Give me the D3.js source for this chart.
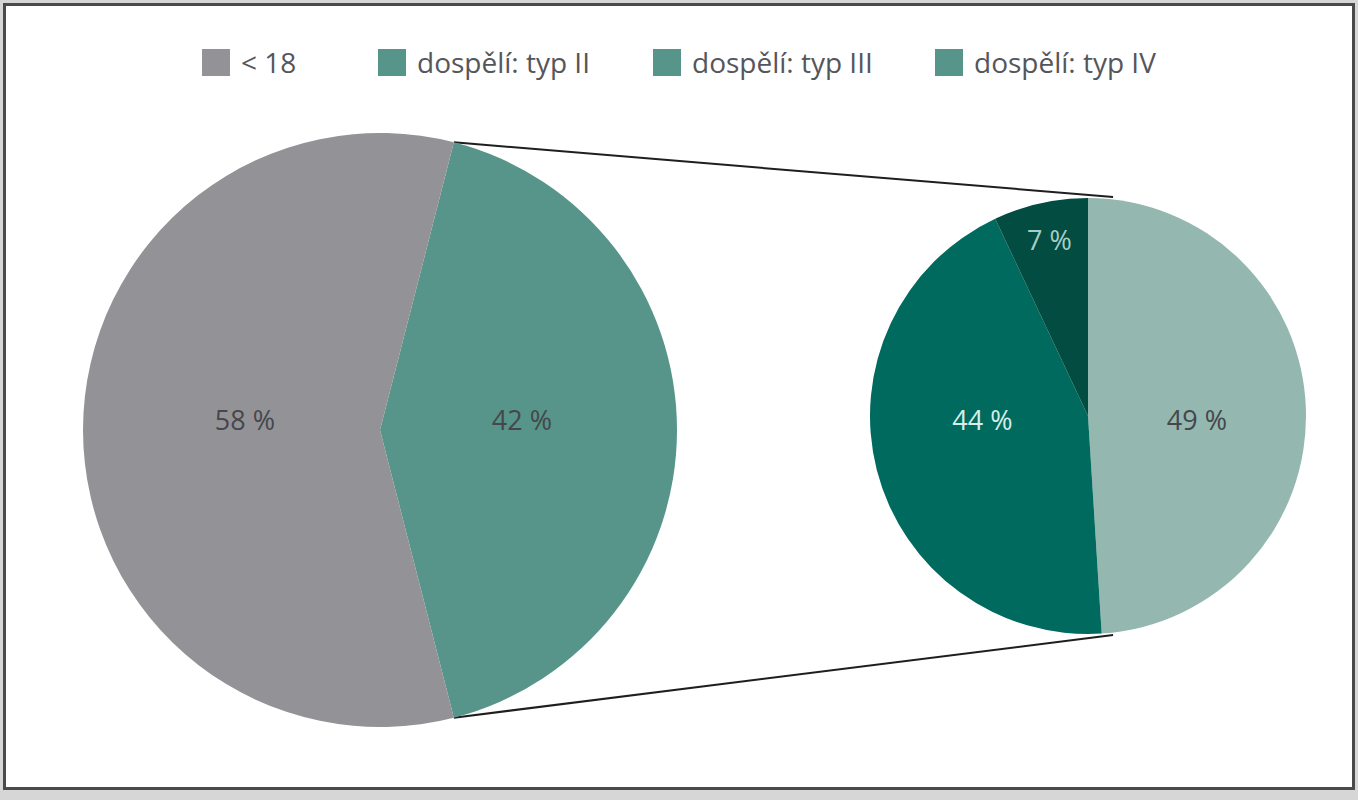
<!DOCTYPE html>
<html lang="en">
<head>
    <meta charset="UTF-8">
    <title>Pie of pie</title>
    <script src="https://cdnjs.cloudflare.com/ajax/libs/d3/7.8.5/d3.min.js"></script>
    <style>
        body {
            margin: 0;
            background: #d6d6d6;
        }
        svg {
            display: block;
        }
        text {
            font-family: "Open Sans", sans-serif;
        }
    </style>
</head>
<body>
    <div class="diagram"></div>
    <script>
        // main pie
        const mainLabels = ['< 18', 'dospělí'];
        const mainValues = [58, 42];
        // secondary pie (split of adults)
        const subLabels = ['dospělí: typ II', 'dospělí: typ III', 'dospělí: typ IV'];
        const subValues = [49, 44, 7];
        const legendLabels = ['< 18', 'dospělí: typ II', 'dospělí: typ III', 'dospělí: typ IV'];

        const width = 1358, height = 800;
        const mainColor = {'< 18': '#939397', 'dospělí': '#57948a'};
        const subColor = d3.scaleOrdinal().domain(subLabels).range(['#94b7b0', '#006a5e', '#024c41']);
        const subText = d3.scaleOrdinal().domain(subLabels).range(['#45474a', '#d6eee8', '#a6cfc6']);
        const legendColor = d3.scaleOrdinal().domain(legendLabels).range(['#939397', '#57948a', '#57948a', '#57948a']);

        const svg = d3.select('.diagram')
            .append('svg')
            .attr('width', width)
            .attr('height', height);

        svg.append('rect')
            .attr('x', 4.5)
            .attr('y', 4.5)
            .attr('width', 1349)
            .attr('height', 784)
            .attr('fill', 'white')
            .attr('stroke', '#4a4a4a')
            .attr('stroke-width', 3);

        // left pie: adults slice centred at 3 o'clock
        const c1 = {x: 380, y: 430}, r1 = 297;
        const adultShare = mainValues[1] / d3.sum(mainValues);
        const start1 = Math.PI / 2 - adultShare * Math.PI;
        const pie1 = d3.pie().sort(null).value(d => d.v)
            .startAngle(start1).endAngle(start1 + 2 * Math.PI);
        const data1 = pie1([{k: mainLabels[1], v: mainValues[1]}, {k: mainLabels[0], v: mainValues[0]}]);
        const arc1 = d3.arc().innerRadius(0).outerRadius(r1);

        const c2 = {x: 1088, y: 416}, r2 = 218;
        const pie2 = d3.pie().sort(null).value(d => d.v);
        const data2 = pie2(subLabels.map((k, i) => ({k: k, v: subValues[i]})));
        const arc2 = d3.arc().innerRadius(0).outerRadius(r2);

        // connector lines
        const adult = data1[0];
        const pt = (c, r, a) => [c.x + r * Math.sin(a), c.y - r * Math.cos(a)];
        const lines = [
            [pt(c1, r1, adult.startAngle), [c2.x + r2 * 0.115, c2.y - r2 - 1]],
            [pt(c1, r1, adult.endAngle), [c2.x + r2 * 0.115, c2.y + r2 + 1]]
        ];
        svg.selectAll('.conn')
            .data(lines)
            .enter()
            .append('line')
            .attr('class', 'conn')
            .attr('x1', d => d[0][0])
            .attr('y1', d => d[0][1])
            .attr('x2', d => d[1][0])
            .attr('y2', d => d[1][1])
            .attr('stroke', '#1e1e1e')
            .attr('stroke-width', 2);

        const g1 = svg.append('g').attr('transform', `translate(${c1.x},${c1.y})`);
        g1.selectAll('path')
            .data(data1)
            .enter()
            .append('path')
            .attr('d', arc1)
            .attr('fill', d => mainColor[d.data.k]);

        g1.selectAll('text')
            .data(data1)
            .enter()
            .append('text')
            .attr('x', d => {
                const rr = d.data.k === '< 18' ? 0.455 : 0.478;
                return d3.arc().innerRadius(r1 * rr).outerRadius(r1 * rr).centroid(d)[0];
            })
            .attr('y', -9)
            .attr('dy', '0.35em')
            .attr('text-anchor', 'middle')
            .attr('font-size', 27)
            .attr('fill', '#46474b')
            .text(d => d.data.v + ' %');

        const g2 = svg.append('g').attr('transform', `translate(${c2.x},${c2.y})`);
        g2.selectAll('path')
            .data(data2)
            .enter()
            .append('path')
            .attr('d', arc2)
            .attr('fill', d => subColor(d.data.k));

        const lab2 = d3.arc().innerRadius(r2 * 0.5).outerRadius(r2 * 0.5);
        const lab2small = d3.arc().innerRadius(r2 * 0.81).outerRadius(r2 * 0.81);
        g2.selectAll('text')
            .data(data2)
            .enter()
            .append('text')
            .attr('x', d => (d.data.v < 10 ? lab2small : lab2).centroid(d)[0])
            .attr('y', d => d.data.v < 10 ? (lab2small.centroid(d)[1] - 3) : 5)
            .attr('dy', '0.35em')
            .attr('text-anchor', 'middle')
            .attr('font-size', 27)
            .attr('fill', d => subText(d.data.k))
            .text(d => d.data.v + ' %');

        // legend
        const legendX = d3.scaleOrdinal().domain(legendLabels).range([202, 378, 653, 935]);
        const leg = svg.selectAll('.legend')
            .data(legendLabels)
            .enter()
            .append('g')
            .attr('class', 'legend')
            .attr('transform', d => `translate(${legendX(d)},49)`);
        leg.append('rect')
            .attr('width', 28)
            .attr('height', 27)
            .attr('fill', d => legendColor(d));
        leg.append('text')
            .attr('x', 39)
            .attr('y', 14)
            .attr('dy', '0.35em')
            .attr('font-size', 28)
            .attr('fill', '#55565a')
            .text(d => d);
    </script>
</body>
</html>
